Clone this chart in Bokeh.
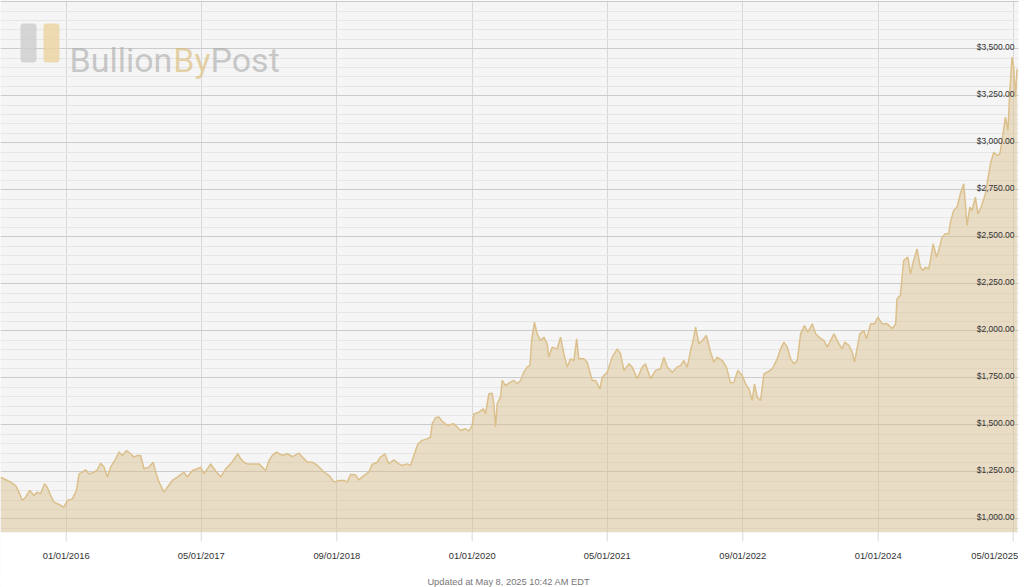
import pandas as pd
from bokeh.plotting import figure
from bokeh.models import (Range1d, FixedTicker, SingleIntervalTicker, Grid, ColumnDataSource,
                          BoxAnnotation)
from bokeh.core.properties import value
from bokeh.embed import file_html
from bokeh.resources import INLINE

# ---------------- data ----------------
start_date = "2015-05-08"
day_offsets = [
    2, 14, 38, 56, 68, 80, 92, 107, 122, 134, 146, 160, 170, 182, 194, 212, 230, 242, 260, 275,
    284, 296, 308, 320, 338, 350, 362, 374, 386, 398, 416, 428, 440, 455, 470, 482, 494, 506, 518, 536,
    551, 560, 572, 590, 602, 620, 638, 662, 674, 692, 710, 722, 734, 758, 770, 794, 812, 830, 856, 866,
    878, 890, 908, 932, 956, 968, 980, 995, 1016, 1034, 1052, 1076, 1088, 1106, 1124, 1142, 1154, 1166, 1184, 1202,
    1220, 1238, 1250,
    1261, 1279, 1291, 1309, 1327, 1339, 1357, 1369, 1385, 1399, 1417, 1435, 1447, 1465, 1477, 1489, 1504, 1519, 1537, 1549,
    1555, 1567, 1579, 1591, 1603, 1612, 1621, 1633, 1645, 1657, 1675, 1687, 1699, 1705, 1723, 1739, 1747, 1759, 1771, 1777,
    1783, 1789, 1801, 1807, 1819, 1837, 1849, 1861, 1873, 1885, 1897, 1907, 1913, 1923, 1933, 1945, 1957, 1969, 1975, 1987,
    2005, 2017, 2029, 2041, 2053, 2065, 2075, 2083, 2101, 2113, 2131, 2143, 2159, 2167, 2185, 2203, 2221, 2233, 2245, 2263,
    2275, 2293, 2311, 2323, 2341, 2359, 2377, 2389, 2401, 2419, 2437, 2449,
    2461, 2473, 2485, 2494, 2503, 2515, 2527, 2542, 2557, 2569, 2581, 2599, 2614, 2629, 2641, 2655, 2671, 2683, 2695, 2707,
    2715, 2725, 2737, 2749, 2761, 2779, 2797, 2809, 2821, 2833, 2845, 2857, 2869, 2881, 2895, 2907, 2923, 2935, 2947, 2965,
    2977, 3001, 3019, 3031, 3040, 3055, 3067, 3075, 3085, 3094, 3109, 3118, 3133, 3147, 3159, 3175, 3193, 3211, 3223,
    3228, 3240, 3252, 3267, 3276, 3288, 3300, 3312, 3322, 3330, 3342, 3348, 3358, 3370, 3378, 3390, 3402, 3414, 3420, 3432,
    3444, 3456, 3468, 3480, 3490, 3498, 3510, 3519, 3531, 3546, 3552, 3564, 3576, 3588, 3598, 3606, 3618, 3627, 3634, 3642,
    3648, 3654, 3660,
]
gold_price = [
    1221, 1213, 1195, 1177, 1142, 1097, 1115, 1151, 1124, 1142, 1133, 1186, 1168, 1124, 1089, 1076, 1062, 1097, 1106, 1151,
    1239, 1248, 1261, 1239, 1248, 1261, 1296, 1275, 1222, 1275, 1319, 1355, 1337, 1363, 1346, 1328, 1337, 1337, 1266, 1275,
    1301, 1248, 1195, 1142, 1168, 1204, 1222, 1248, 1222, 1257, 1266, 1275, 1239, 1292, 1266, 1222, 1266, 1292, 1346, 1319,
    1301, 1292, 1292, 1292, 1257, 1310, 1337, 1355, 1337, 1346, 1331, 1349, 1328, 1301, 1301, 1284, 1266, 1248, 1230, 1195,
    1204, 1204, 1195,
    1236, 1234, 1207, 1230, 1248, 1289, 1301, 1328, 1346, 1292, 1314, 1292, 1284, 1292, 1284, 1337, 1399, 1417, 1425, 1434,
    1505, 1537, 1541, 1519, 1505, 1496, 1502, 1505, 1488, 1470, 1479, 1466, 1496, 1558, 1567, 1585, 1558, 1665, 1668, 1612,
    1488, 1612, 1647, 1736, 1709, 1727, 1736, 1718, 1736, 1780, 1807, 1816, 1948, 2046, 1984, 1948, 1966, 1931, 1860, 1913,
    1904, 1966, 1878, 1807, 1851, 1842, 1957, 1851, 1851, 1833, 1736, 1736, 1691, 1753, 1780, 1860, 1904, 1878, 1789, 1824,
    1807, 1745, 1807, 1824, 1745, 1789, 1798, 1860, 1807, 1780, 1807, 1816,
    1842, 1807, 1895, 1948, 2019, 1931, 1948, 1975, 1886, 1833, 1860, 1842, 1807, 1722, 1727, 1789, 1762, 1718, 1691, 1629,
    1718, 1647, 1629, 1771, 1780, 1798, 1851, 1904, 1940, 1913, 1851, 1824, 1842, 1984, 2028, 1993, 2037, 1984, 1966, 1948,
    1913, 1984, 1931, 1904, 1940, 1922, 1886, 1833, 1913, 1984, 2002, 1957, 2037, 2037, 2073, 2037, 2037, 2011, 2037,
    2170, 2188, 2374, 2392, 2303, 2374, 2436, 2338, 2321, 2338, 2330, 2374, 2463, 2392, 2427, 2498, 2516, 2516, 2578, 2640,
    2658, 2729, 2782, 2560, 2658, 2640, 2711, 2622, 2658, 2729, 2782, 2888, 2950, 2932, 2941, 3012, 3136, 3065, 3278, 3456,
    3402, 3243, 3393,
]
x_tick_labels = ["01/01/2016", "05/01/2017", "09/01/2018", "01/01/2020",
                 "05/01/2021", "09/01/2022", "01/01/2024", "05/01/2025"]
y_tick_values = [1000, 1250, 1500, 1750, 2000, 2250, 2500, 2750, 3000, 3250, 3500]
footer_text = "Updated at May 8, 2025 10:42 AM EDT"
logo_parts = ["Bullion", "By", "Post"]

# ---------------- layout constants ----------------
W, H = 1024, 587
PX_PER_DAY = 0.27787          # horizontal scale
USD_PER_PX = 5.3191           # vertical scale
x_start = pd.Timestamp(start_date) + pd.Timedelta(days=1.55)
x_end = x_start + pd.Timedelta(days=W / PX_PER_DAY)
y_top = 3756.9
y_bottom = y_top - H * USD_PER_PX
y_base = 928.7                # bottom of the plotting area
y_tick_end = y_base - 9 * USD_PER_PX


def fx(px):
    return x_start + pd.Timedelta(days=px / PX_PER_DAY)


def fy(py):
    return y_top - py * USD_PER_PX


def ms(ts):
    return ts.value / 1e6


dates = pd.Timestamp(start_date) + pd.to_timedelta(day_offsets, unit="D")
src = ColumnDataSource(dict(date=dates, price=gold_price))

p = figure(width=W, height=H, x_axis_type="datetime",
           x_range=Range1d(x_start, x_end), y_range=Range1d(y_bottom, y_top),
           x_axis_location=None, y_axis_location=None, toolbar_location=None,
           output_backend="svg", min_border=0,
           background_fill_color="#f5f5f5", border_fill_color="white",
           outline_line_color=None, title=None)

for r in [r for r in p.center if isinstance(r, Grid)]:
    p.center.remove(r)

tick_ts = [pd.to_datetime(s, format="%m/%d/%Y") for s in x_tick_labels]
xticker = FixedTicker(ticks=[ms(t) for t in tick_ts])
p.add_layout(Grid(dimension=0, ticker=xticker, grid_line_color="#d8d8d8"), "center")
p.add_layout(Grid(dimension=1, ticker=SingleIntervalTicker(interval=250, num_minor_ticks=5),
                  grid_line_color="#cbcbcb", minor_grid_line_color="#e6e6e6"), "center")

# white area below and right of the plotting region
p.add_layout(BoxAnnotation(left=ms(x_start) - 1e11, right=ms(x_end) + 1e11,
                           bottom=y_bottom - 1000, top=y_base, fill_color="white", fill_alpha=1,
                           line_color=None, level="underlay"), "center")
p.add_layout(BoxAnnotation(left=ms(fx(1018)), right=ms(x_end) + 1e11,
                           bottom=y_bottom - 1000, top=y_top + 1000, fill_color="white",
                           fill_alpha=1, line_color=None, level="underlay"), "center")

# area + line
p.varea(x="date", y1=y_base, y2="price", source=src, fill_color="#d9bf8c", fill_alpha=0.45)
p.line(x="date", y="price", source=src, line_color="#dcc08c", line_width=1.5)

# x ticks and labels
n = len(tick_ts)
p.segment(x0=tick_ts, y0=[y_base] * n, x1=tick_ts, y1=[y_tick_end] * n,
          line_color="#d8d8d8", line_width=1)
xlab = ColumnDataSource(dict(x=tick_ts, y=[y_base] * n, text=x_tick_labels,
                             align=["center"] * (n - 1) + ["right"],
                             xoff=[0] * (n - 1) + [5]))
p.text(x="x", y="y", text="text", source=xlab, text_align="align", x_offset="xoff",
       y_offset=23.6, text_baseline="alphabetic", text_font=value("Liberation Sans"),
       text_font_size="9.4px", text_color="#333333")

# footer
p.text(x=[fx(508.3)], y=[y_base], text=[footer_text], y_offset=49.3, text_align="center",
       text_baseline="alphabetic", text_font=value("Liberation Sans"), text_font_size="9.3px",
       text_color="#777777")

# y labels inside the plot
ylab = ColumnDataSource(dict(x=[x_end] * len(y_tick_values), y=y_tick_values,
                             text=[f"${v:,.2f}" for v in y_tick_values]))
p.text(x="x", y="y", text="text", source=ylab, text_align="right", text_baseline="alphabetic",
       x_offset=-10, y_offset=-2, text_font=value("Liberation Sans"), text_font_size="8.5px",
       text_color="#333333")

# watermark logo
for (l, r), c in zip([(20, 36), (43, 59)], ["#cdcdcd", "#ebd3a0"]):
    p.add_layout(BoxAnnotation(left=ms(fx(l)), right=ms(fx(r)), top=fy(23), bottom=fy(62),
                               fill_color=c, fill_alpha=0.8, line_color=None, border_radius=3))
logo_x = [69, 172.7, 210]
logo_col = ["#a8a8a8", "#d9b870", "#a8a8a8"]
p.text(x=[fx(v) for v in logo_x], y=[fy(59.3)] * 3, text=logo_parts, text_color=logo_col,
       text_alpha=0.6, text_align="left", text_baseline="alphabetic",
       text_font=value("Roboto"), text_font_size="34px")

open("out.html", "w").write(file_html(p, INLINE))
